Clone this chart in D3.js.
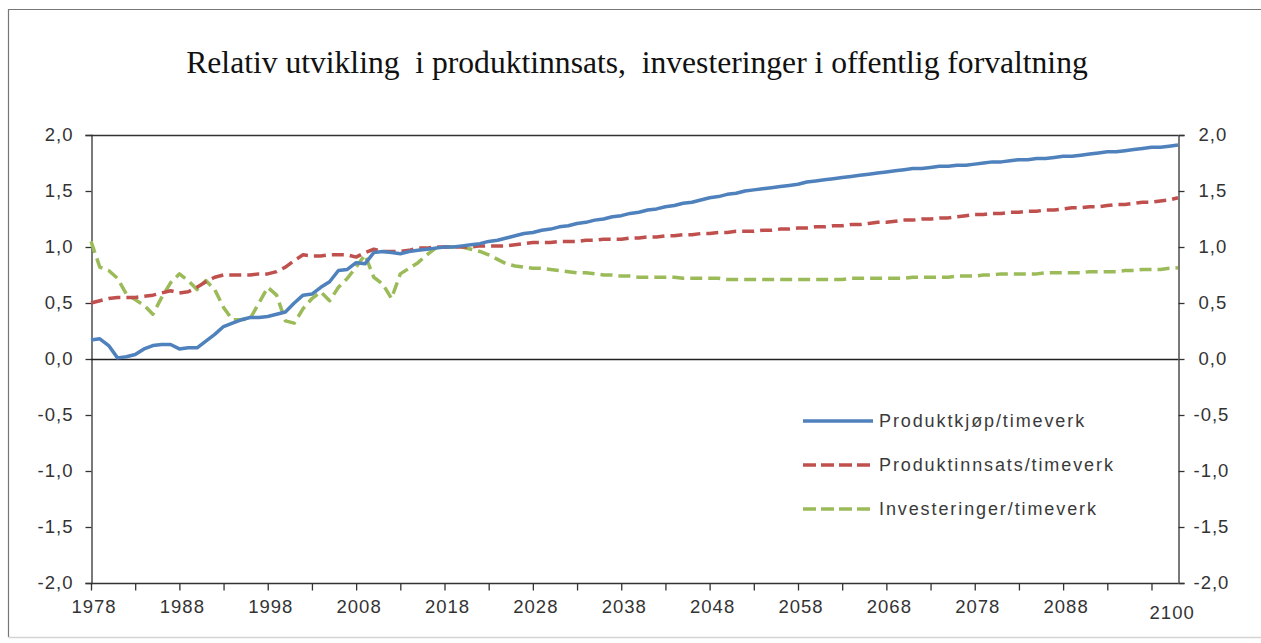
<!DOCTYPE html>
<html>
<head>
<meta charset="utf-8">
<script src="https://cdn.jsdelivr.net/npm/d3@7/dist/d3.min.js"></script>
<style>
  body { margin: 0; background: #fff; }
  svg { display: block; }
  .tick-label { font-family: "Liberation Sans", Arial, sans-serif; font-size: 18.5px; fill: #333; letter-spacing: 1px; }
  .legend-label { font-family: "Liberation Sans", Arial, sans-serif; font-size: 18px; fill: #3a3a3a; letter-spacing: 1.9px; }
</style>
</head>
<body>
<svg id="chart" width="1261" height="643"></svg>
<script>
// Years on the category axis
const firstYear = 1978;
const lastYear = 2101;
const years = d3.range(firstYear, lastYear + 1);

// Produktkjøp per timeverk, 1978–2101
const produktkjop = [
  0.17, 0.18, 0.12, 0.01, 0.02, 0.04, 0.09, 0.12, 0.13, 0.13,
  0.09, 0.10, 0.10, 0.16, 0.22, 0.29, 0.32, 0.35, 0.37, 0.37,
  0.38, 0.40, 0.42, 0.50, 0.57, 0.58, 0.64, 0.69, 0.79, 0.80,
  0.86, 0.85, 0.95, 0.96, 0.95, 0.94, 0.96, 0.97, 0.98, 0.99,
  1.00, 1.00, 1.01, 1.02, 1.03, 1.05, 1.06, 1.08, 1.10, 1.12,
  1.13, 1.15, 1.16, 1.18, 1.19, 1.21, 1.22, 1.24, 1.25, 1.27,
  1.28, 1.30, 1.31, 1.33, 1.34, 1.36, 1.37, 1.39, 1.40, 1.42,
  1.44, 1.45, 1.47, 1.48, 1.50, 1.51, 1.52, 1.53, 1.54, 1.55,
  1.56, 1.58, 1.59, 1.60, 1.61, 1.62, 1.63, 1.64, 1.65, 1.66,
  1.67, 1.68, 1.69, 1.70, 1.70, 1.71, 1.72, 1.72, 1.73, 1.73,
  1.74, 1.75, 1.76, 1.76, 1.77, 1.78, 1.78, 1.79, 1.79, 1.80,
  1.81, 1.81, 1.82, 1.83, 1.84, 1.85, 1.85, 1.86, 1.87, 1.88,
  1.89, 1.89, 1.90, 1.91
];

// Produktinnsats per timeverk, 1978–2101
const produktinnsats = [
  0.50, 0.52, 0.54, 0.55, 0.55, 0.55, 0.56, 0.57, 0.59, 0.61,
  0.59, 0.60, 0.64, 0.69, 0.73, 0.75, 0.75, 0.75, 0.75, 0.76,
  0.76, 0.78, 0.82, 0.88, 0.93, 0.92, 0.92, 0.93, 0.93, 0.93,
  0.91, 0.95, 0.98, 0.96, 0.96, 0.96, 0.97, 0.99, 0.99, 1.00,
  1.00, 1.00, 1.00, 1.00, 1.01, 1.01, 1.01, 1.01, 1.02, 1.03,
  1.04, 1.04, 1.04, 1.05, 1.05, 1.05, 1.06, 1.06, 1.07, 1.07,
  1.07, 1.08, 1.08, 1.09, 1.09, 1.10, 1.10, 1.11, 1.11, 1.12,
  1.12, 1.13, 1.13, 1.14, 1.14, 1.14, 1.15, 1.15, 1.16, 1.16,
  1.17, 1.17, 1.18, 1.18, 1.19, 1.19, 1.20, 1.20, 1.21, 1.22,
  1.22, 1.23, 1.24, 1.24, 1.25, 1.25, 1.26, 1.26, 1.27, 1.28,
  1.29, 1.29, 1.30, 1.30, 1.31, 1.31, 1.32, 1.32, 1.33, 1.33,
  1.34, 1.35, 1.35, 1.36, 1.36, 1.37, 1.38, 1.38, 1.39, 1.40,
  1.40, 1.41, 1.42, 1.44
];

// Investeringer per timeverk, 1978–2101
const investeringer = [
  1.05, 0.82, 0.79, 0.72, 0.58, 0.53, 0.48, 0.40, 0.55, 0.68,
  0.76, 0.70, 0.62, 0.70, 0.62, 0.46, 0.35, 0.35, 0.36, 0.50,
  0.64, 0.57, 0.34, 0.32, 0.45, 0.54, 0.60, 0.52, 0.64, 0.72,
  0.82, 0.93, 0.73, 0.67, 0.54, 0.76, 0.81, 0.86, 0.93, 0.99,
  1.00, 1.00, 1.00, 0.98, 0.96, 0.93, 0.89, 0.85, 0.83, 0.82,
  0.81, 0.81, 0.80, 0.79, 0.78, 0.77, 0.77, 0.76, 0.75, 0.75,
  0.74, 0.74, 0.73, 0.73, 0.73, 0.73, 0.73, 0.72, 0.72, 0.72,
  0.72, 0.72, 0.71, 0.71, 0.71, 0.71, 0.71, 0.71, 0.71, 0.71,
  0.71, 0.71, 0.71, 0.71, 0.71, 0.71, 0.72, 0.72, 0.72, 0.72,
  0.72, 0.72, 0.72, 0.73, 0.73, 0.73, 0.73, 0.73, 0.74, 0.74,
  0.74, 0.75, 0.75, 0.76, 0.76, 0.76, 0.76, 0.76, 0.77, 0.77,
  0.77, 0.77, 0.77, 0.78, 0.78, 0.78, 0.78, 0.79, 0.79, 0.80,
  0.80, 0.80, 0.81, 0.815
];

const seriesNames = ["Produktkjøp/timeverk", "Produktinnsats/timeverk", "Investeringer/timeverk"];
const seriesColors = ["#4F81BD", "#C0504D", "#9BBB59"];
const seriesDash = [null, "12,6", "12,6"];

const yTicks = [-2.0, -1.5, -1.0, -0.5, 0.0, 0.5, 1.0, 1.5, 2.0];
const xTickYears = d3.range(1978, 2100, 5);
const xLabelYears = [1978, 1988, 1998, 2008, 2018, 2028, 2038, 2048, 2058, 2068, 2078, 2088];
const finalLabelYear = 2100;

const titleText = "Relativ utvikling  i produktinnsats,  investeringer i offentlig forvaltning";

const plot = { left: 91, right: 1178, top: 135, bottom: 583 };

const svg = d3.select("#chart");

// chart frame: top and left edges, faint bottom edge
svg.append("path")
  .attr("d", "M1261,9.5 H8.5 V637")
  .attr("fill", "none").attr("stroke", "#777").attr("stroke-width", 1.2);
svg.append("line")
  .attr("x1", 8.5).attr("x2", 1261)
  .attr("y1", 637.5).attr("y2", 637.5)
  .attr("stroke", "#d4d4d4").attr("stroke-width", 1.5);

svg.append("text")
  .attr("x", 637).attr("y", 73)
  .attr("text-anchor", "middle")
  .attr("font-family", "'Liberation Serif', 'Times New Roman', serif")
  .attr("font-size", 31.6)
  .attr("fill", "#111")
  .style("white-space", "pre")
  .text(titleText);

const x = d3.scaleLinear().domain([firstYear, lastYear]).range([plot.left, plot.right]);
const y = d3.scaleLinear().domain([-2, 2]).range([plot.bottom, plot.top]);

const fmt = v => d3.format(".1f")(v).replace(".", ",").replace("−", "-");

// top border of the plot area
svg.append("line")
  .attr("x1", plot.left).attr("x2", plot.right)
  .attr("y1", plot.top + 0.5).attr("y2", plot.top + 0.5)
  .attr("stroke", "#333").attr("stroke-width", 1.3);

// left value axis
const leftAxis = svg.append("g")
  .attr("transform", `translate(${plot.left + 0.5},0)`)
  .call(d3.axisLeft(y).tickValues(yTicks).tickSize(6).tickPadding(12).tickFormat(fmt));

// right value axis
const rightAxis = svg.append("g")
  .attr("transform", `translate(${plot.right + 0.5},0)`)
  .call(d3.axisRight(y).tickValues(yTicks).tickSize(6).tickPadding(9).tickFormat(fmt));
rightAxis.selectAll(".tick text")
  .attr("dx", d => d >= 0 ? 5 : 0);

// category axis along the bottom
const bottomAxis = svg.append("g")
  .attr("transform", `translate(0,${plot.bottom + 0.5})`)
  .call(d3.axisBottom(x).tickValues(xTickYears).tickSize(7).tickFormat(""));
bottomAxis.append("line")
  .attr("x1", plot.left).attr("x2", plot.right)
  .attr("stroke", "#333").attr("stroke-width", 1.3);

[leftAxis, rightAxis, bottomAxis].forEach(g => {
  g.select(".domain").attr("stroke", "#333").attr("stroke-width", 1.3);
  g.selectAll(".tick line").attr("stroke", "#333").attr("stroke-width", 1.3);
  g.selectAll(".tick text").attr("class", "tick-label").attr("font-size", null).attr("font-family", null);
});
bottomAxis.select(".domain").remove();

// year labels
svg.append("g").selectAll("text")
  .data(xLabelYears)
  .join("text")
  .attr("class", "tick-label")
  .attr("x", d => x(d) + 3)
  .attr("y", 613)
  .attr("text-anchor", "middle")
  .text(d => d);
svg.append("text")
  .attr("class", "tick-label")
  .attr("x", x(finalLabelYear) + 3)
  .attr("y", 619)
  .attr("text-anchor", "middle")
  .text(finalLabelYear);

// zero line
svg.append("line")
  .attr("x1", plot.left).attr("x2", plot.right)
  .attr("y1", y(0) + 0.5).attr("y2", y(0) + 0.5)
  .attr("stroke", "#222").attr("stroke-width", 1.3);

// series lines
const allSeries = [produktkjop, produktinnsats, investeringer];
const line = d3.line()
  .x((d, i) => x(years[i]))
  .y(d => y(d));

const drawOrder = [2, 1, 0];
drawOrder.forEach(k => {
  svg.append("path")
    .datum(allSeries[k])
    .attr("fill", "none")
    .attr("stroke", seriesColors[k])
    .attr("stroke-width", 3.5)
    .attr("stroke-linejoin", "round")
    .attr("stroke-dasharray", seriesDash[k])
    .attr("d", line);
});

// legend
const legendRows = [421, 465, 509];
const legend = svg.append("g");
seriesNames.forEach((name, k) => {
  legend.append("line")
    .attr("x1", 803).attr("x2", 873)
    .attr("y1", legendRows[k]).attr("y2", legendRows[k])
    .attr("stroke", seriesColors[k])
    .attr("stroke-width", 3.5)
    .attr("stroke-dasharray", seriesDash[k] ? "13,5" : null);
  legend.append("text")
    .attr("class", "legend-label")
    .attr("x", 879)
    .attr("y", legendRows[k] + 6)
    .text(name);
});
</script>
</body>
</html>
